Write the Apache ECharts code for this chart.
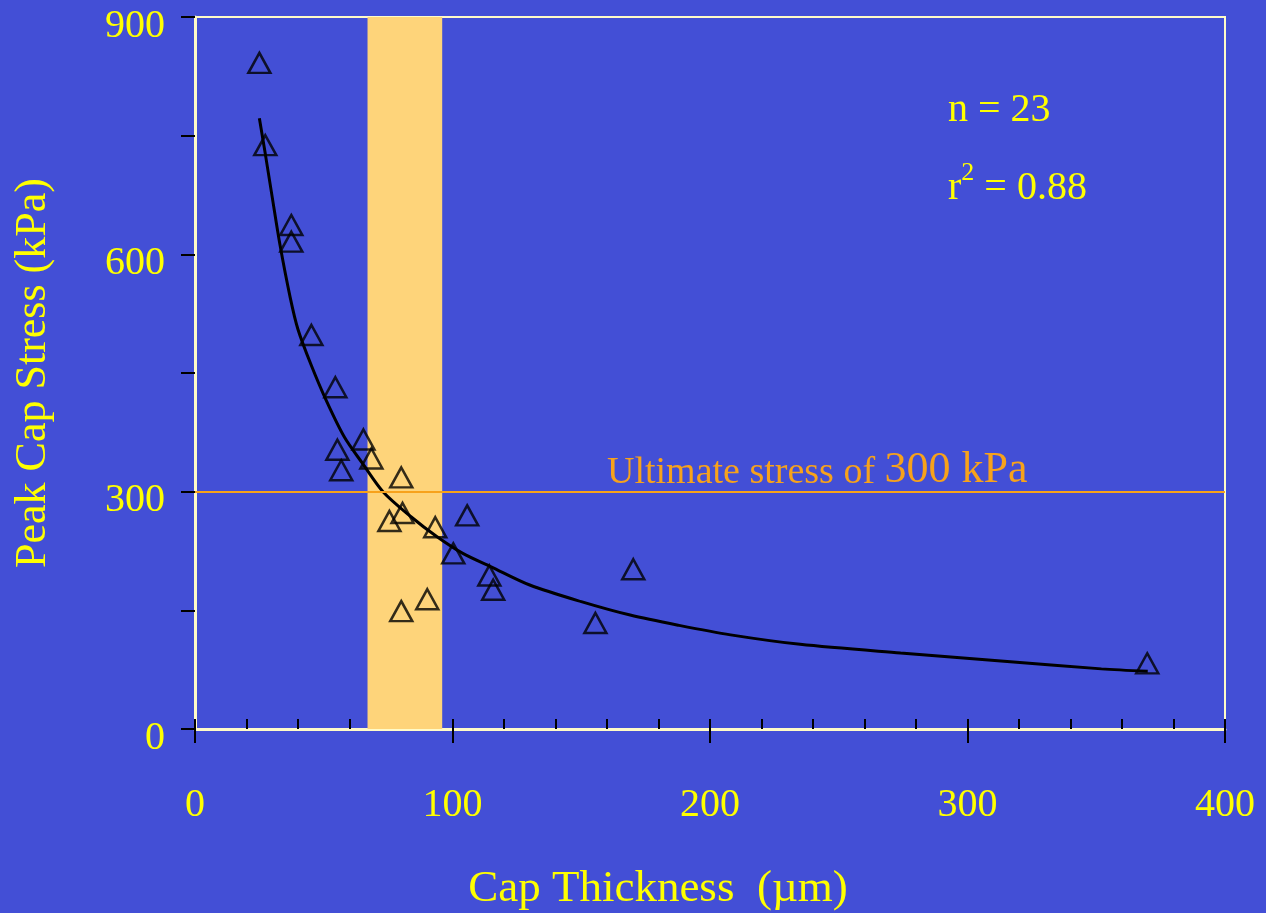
<!DOCTYPE html>
<html>
<head>
<meta charset="utf-8">
<script src="https://cdn.jsdelivr.net/npm/echarts@6/dist/echarts.min.js"></script>
<style>
html,body{margin:0;padding:0;background:#434fd6;}
#chart{width:1266px;height:913px;}
</style>
</head>
<body>
<div id="chart"></div>
<script>
// Measured points: cap thickness (µm) and peak cap stress (kPa)
const thickness = [25, 27.3, 37.4, 37.4, 45.2, 54.5, 65.4, 55.3, 68.5, 56.8, 80.1, 80.6, 75.5, 105.7, 93.3, 100.3, 114.3, 115.8, 90.2, 80.1, 170.2, 155.5, 369.8];
const stress    = [842, 738, 637, 616, 498, 432, 366, 353, 342, 327, 318, 273, 263, 270, 255, 222, 194, 176, 164, 149, 202, 134, 83];
// Fitted curve
const fitX = [25, 27.3, 30, 33, 37, 40, 45, 51, 58, 65, 73, 84, 94, 104, 115, 130, 150, 169, 188, 208, 235, 274, 313, 352, 370];
const fitY = [772, 727, 672, 612, 545, 505, 461, 415, 369, 336, 300, 268, 243, 222, 205, 182, 161, 144, 131, 119, 107, 96, 86, 76, 73];
// Highlighted thickness band and threshold
const band = [67, 96];
const ultimateStress = 300;
const yTicks = [0, 300, 600, 900];
const xTicks = [0, 100, 200, 300, 400];

const FONT = '"Liberation Serif", "Times New Roman", serif';
const YEL = '#ffff00';
const FRAME = '#fffbc8';
const ORANGE = '#f7a21b';

const chart = echarts.init(document.getElementById('chart'));
chart.setOption({
  backgroundColor: '#434fd6',
  animation: false,
  grid: { left: 195, right: 41, top: 17, bottom: 184, show: true, borderColor: FRAME, borderWidth: 2, backgroundColor: 'transparent', containLabel: false, outerBoundsMode: 'none' },
  xAxis: [{
    type: 'value', min: 0, max: 400, interval: 100,
    axisLine: { show: true, lineStyle: { color: FRAME, width: 3 } },
    axisTick: { show: true, inside: false, length: 14, lineStyle: { color: '#000', width: 2 } },
    axisLabel: { color: YEL, fontFamily: FONT, fontSize: 40, margin: 56, formatter: v => xTicks.includes(v) ? String(v) : '' },
    splitLine: { show: false },
    name: 'Cap Thickness  (µm)', nameLocation: 'middle', nameGap: 138,
    nameTextStyle: { color: YEL, fontFamily: FONT, fontSize: 45, padding: [0, 104, 0, 0] }
  }, {
    type: 'value', min: 0, max: 400, interval: 20, position: 'bottom',
    axisLine: { show: false },
    axisTick: { show: true, inside: true, length: 10, lineStyle: { color: '#000', width: 2 } },
    axisLabel: { show: false }, splitLine: { show: false }
  }],
  yAxis: {
    type: 'value', min: 0, max: 900, interval: 150,
    axisLine: { show: true, lineStyle: { color: FRAME, width: 3 } },
    axisTick: { show: true, inside: false, length: 14, lineStyle: { color: '#000', width: 2 } },
    axisLabel: {
      color: YEL, fontFamily: FONT, fontSize: 40, margin: 30,
      formatter: v => yTicks.includes(v) ? '{v|' + v + '}' : '',
      rich: { v: { color: YEL, fontFamily: FONT, fontSize: 40, padding: [18, 0, 0, 0] } }
    },
    splitLine: { show: false },
    name: 'Peak Cap Stress (kPa)', nameLocation: 'middle', nameGap: 140,
    nameTextStyle: { color: YEL, fontFamily: FONT, fontSize: 44 }
  },
  series: [{
    type: 'line',
    data: fitX.map((x, i) => [x, fitY[i]]),
    showSymbol: false, smooth: 0.3,
    lineStyle: { color: '#000', width: 3 },
    markArea: {
      silent: true,
      itemStyle: { color: '#fed47a' },
      data: [[{ xAxis: band[0] }, { xAxis: band[1] }]]
    },
    markLine: {
      silent: true, symbol: 'none',
      lineStyle: { color: ORANGE, width: 2, type: 'solid' },
      label: { show: false },
      data: [{ yAxis: ultimateStress }]
    },
    z: 3
  }, {
    type: 'scatter',
    data: thickness.map((x, i) => [x, stress[i]]),
    symbol: 'triangle', symbolSize: [22, 20],
    itemStyle: { color: 'rgba(0,0,0,0)', borderColor: '#000', borderWidth: 2.5 },
    z: 4
  }],
  graphic: [{
    type: 'text', left: 607, top: 448,
    style: {
      text: '{a|Ultimate stress of }{b|300 kPa}',
      rich: {
        a: { fontFamily: FONT, fontSize: 38, fill: ORANGE, verticalAlign: 'bottom' },
        b: { fontFamily: FONT, fontSize: 44, fill: ORANGE, verticalAlign: 'bottom' }
      }
    }
  }, {
    type: 'text', left: 948, top: 90,
    style: { text: 'n = 23', fontFamily: FONT, fontSize: 40, fill: YEL }
  }, {
    type: 'text', left: 948, top: 160,
    style: {
      text: '{r|r}{s|2}{r| = 0.88}',
      rich: {
        r: { fontFamily: FONT, fontSize: 40, fill: YEL, verticalAlign: 'bottom' },
        s: { fontFamily: FONT, fontSize: 26, fill: YEL, verticalAlign: 'top', padding: [0, 0, 22, 0] }
      }
    }
  }]
});
</script>
</body>
</html>
